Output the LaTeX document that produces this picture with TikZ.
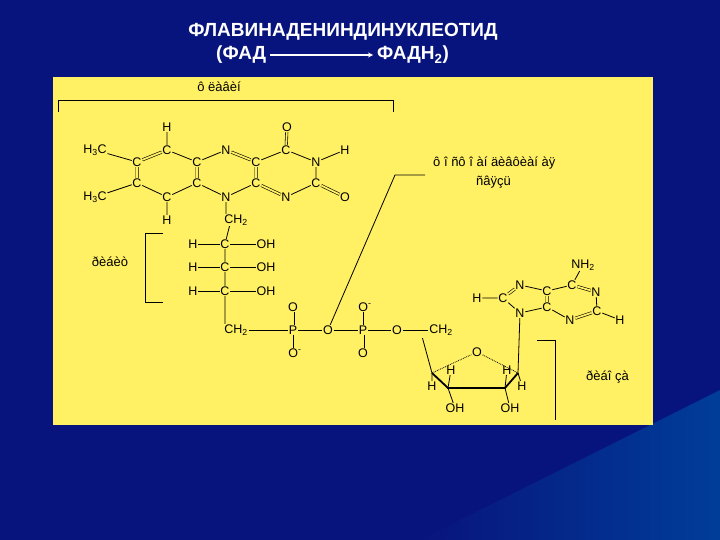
\documentclass[tikz,border=0pt]{standalone}
\usepackage{fontspec}
\setmainfont{Liberation Sans}
\definecolor{pan}{RGB}{255,240,100}
\definecolor{bg}{RGB}{8,20,125}
\begin{document}
\begin{tikzpicture}[x=1pt,y=-1pt,
 atm/.style={inner sep=0.6pt,font=\fontsize{12.5}{12.5}\selectfont},
 lab/.style={inner sep=0pt,font=\fontsize{13}{13}\selectfont},
 b/.style={line width=0.8pt},
 db/.style={double=pan,double distance=1.8pt,line width=0.6pt},
 tt/.style={text=white,font=\bfseries\fontsize{19}{20}\selectfont,inner sep=0pt}]
\fill[bg] (0,0) rectangle (720,540);
\shade[left color=bg,right color=blue!60!cyan!60!black] (420,540) -- (720,390) -- (720,540) -- cycle;
\useasboundingbox (0,0) rectangle (720,540);
\fill[pan] (53,77) rectangle (653,425);
\node[tt] (t1) at (343,32) {ФЛАВИНАДЕНИНДИНУКЛЕОТИД};
\node[tt,anchor=west] (t2) at (216,55) {(ФАД};
\node[tt,anchor=west] (t3) at (377,55) {ФАДН\textsubscript{2})};
\draw[white,line width=1.2pt,-stealth] (t2.east)++(4,0) coordinate (a0) -- ([xshift=-4pt]t3.west);
% flavin
\node[atm] (H1) at (167,127) {H};
\node[atm] (O1) at (287,127) {O};
\node[atm] (m1) at (95,150) {H\textsubscript{3}C};
\node[atm] (m2) at (95,197) {H\textsubscript{3}C};
\node[atm] (c1) at (137,162) {C};
\node[atm] (c2) at (137,183) {C};
\node[atm] (c3) at (167,150) {C};
\node[atm] (c4) at (167,197) {C};
\node[atm] (c5) at (197,162) {C};
\node[atm] (c6) at (197,183) {C};
\node[atm] (n1) at (226,150) {N};
\node[atm] (n2) at (226,197) {N};
\node[atm] (c7) at (256,162) {C};
\node[atm] (c8) at (256,183) {C};
\node[atm] (c9) at (286,150) {C};
\node[atm] (n3) at (286,197) {N};
\node[atm] (n4) at (316,162) {N};
\node[atm] (c10) at (316,183) {C};
\node[atm] (H2) at (345,150) {H};
\node[atm] (O2) at (345,197) {O};
\node[atm] (H3) at (167,220) {H};
\node[atm] (ch1) at (236,220) {CH\textsubscript{2}};
\draw[b] (H1)--(c3) (m1)--(c1) (m2)--(c2) (c3)--(c5) (c5)--(n1) (c7)--(c9) (c9)--(n4) (n4)--(H2) (n4)--(c10) (c2)--(c4) (c4)--(c6) (c6)--(n2) (n2)--(c8) (n3)--(c10) (c4)--(H3) (n2)--(n2|-ch1.north);
\draw[db] (c9)--(O1) (c1)--(c3) (c1)--(c2) (c5)--(c6) (n1)--(c7) (c7)--(c8) (c8)--(n3) (c10)--(O2);
% ribitol
\foreach \y/\i in {244/1,267/2,291/3}{
 \node[atm] (rh\i) at (193,\y) {H};
 \node[atm] (rc\i) at (225,\y) {C};
 \node[atm] (ro\i) at (266,\y) {OH};
 \draw[b] (rh\i)--(rc\i)--(ro\i);}
\node[atm] (ch2) at (236,330) {CH\textsubscript{2}};
\draw[b] (ch1.south west)++(6,0) coordinate (k1) -- (rc1) (rc1)--(rc2)--(rc3) (rc3)--(rc3|-ch2.north);
\node[atm] (p1) at (293,330) {P};
\node[atm] (po1) at (293,307) {O};
\node[atm] (po2) at (295,353) {O\textsuperscript{-}};
\node[atm] (ob) at (328,330) {O};
\node[atm] (p2) at (363,330) {P};
\node[atm] (po3) at (365,307) {O\textsuperscript{-}};
\node[atm] (po4) at (363,353) {O};
\node[atm] (oc) at (397,330) {O};
\node[atm] (ch3) at (441,330) {CH\textsubscript{2}};
\draw[b] (ch2)--(p1)--(ob)--(p2)--(oc)--(ch3) (p1)--(p1|-po2.north) (p2)--(p2|-po3.south);
\draw[db] (p1)--(po1) (p2)--(po4);
% adenine
\node[atm] (nh) at (583,265) {NH\textsubscript{2}};
\node[atm] (a1) at (572,285) {C};
\node[atm] (a2) at (596,292) {N};
\node[atm] (a3) at (597,311) {C};
\node[atm] (ah) at (620,320) {H};
\node[atm] (a4) at (570,320) {N};
\node[atm] (a5) at (547,291) {C};
\node[atm] (a6) at (547,307) {C};
\node[atm] (a7) at (520,285) {N};
\node[atm] (a8) at (520,313) {N};
\node[atm] (a9) at (503,298) {C};
\node[atm] (ah2) at (477,298) {H};
\draw[b] (nh)--(a1) (a2)--(a3) (a3)--(ah) (a4)--(a6) (a5)--(a1) (a5)--(a7) (a6)--(a8) (a8)--(a9) (a9)--(ah2);
\draw[db] (a1)--(a2) (a3)--(a4) (a5)--(a6) (a9)--(a7);
% ribose
\node[atm] (ro) at (477,352) {O};
\coordinate (r1) at (432,373);
\coordinate (r2) at (518,373);
\coordinate (r3) at (448,388);
\coordinate (r4) at (505,388);
\draw[b,densely dotted] (r1)--(ro)--(r2);
\draw[line width=1.8pt] (r1)--(r3)--(r4)--(r2);
\draw[b] (ch3.south west)++(-6,2) coordinate (k2) -- (r1) (a8)--(r2);
\node[atm] (hh1) at (451,370) {H};
\node[atm] (hh2) at (507,370) {H};
\node[atm] (hh3) at (432,386) {H};
\node[atm] (hh4) at (522,386) {H};
\node[atm] (oh1) at (455,408) {OH};
\node[atm] (oh2) at (510,408) {OH};
\draw[b] (r1)--(hh3) (r2)--(hh4) (r3)--(hh1) (r4)--(hh2) (r3)--(oh1) (r4)--(oh2);
% brackets and labels
\node[lab] (L1) at (219,87) {ô ëàâèí};
\draw[b] (58,112)--(58,100)--(393,100)--(393,112);
\node[lab] (L2) at (110,262) {ðèáèò};
\draw[b] (163,233)--(145,233)--(145,302)--(163,302);
\node[lab,anchor=west] (L3) at (433,163) {ô î ñô î àí äèâôèàí àÿ};
\node[lab,anchor=west] (L4) at (476,182) {ñâÿçü};
\coordinate (q1) at (395,175);
\coordinate (q2) at (425,175);
\draw[b] (ob)--(q1)--(q2);
\draw[b] (537,340)--(555,340)--(555,420);
\begin{scope}
\clip (53,77) rectangle (653,425);
\node[lab,anchor=west] (L5) at (586,377) {ðèáî çà};
\end{scope}
\end{tikzpicture}
\end{document}
